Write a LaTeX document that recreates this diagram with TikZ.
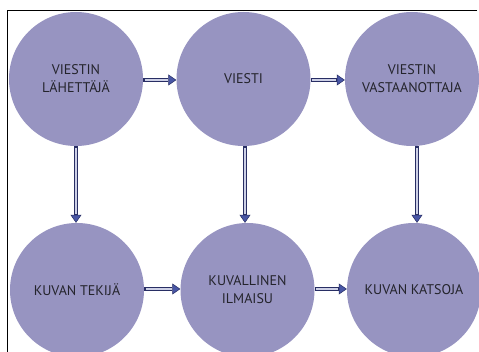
\documentclass[tikz,border=0pt]{standalone}
\usepackage{fontspec}
\setmainfont{PT Sans}
\usetikzlibrary{arrows.meta}

\definecolor{discfill}{RGB}{151,148,193}
\definecolor{labeltext}{RGB}{36,36,44}
\definecolor{shaftedge}{RGB}{40,46,100}
\definecolor{shaftcore}{RGB}{205,208,230}
\definecolor{tipfill}{RGB}{72,86,165}

\tikzset{
  disc/.style={circle, fill=discfill, draw=none, minimum size=134pt, inner sep=0pt,
    align=center, text=labeltext, font=\fontsize{14}{18}\selectfont},
  flow/.style={draw=shaftedge, line width=3.6pt,
    -{Triangle[length=8pt,width=11pt,line width=0.5pt,fill=tipfill,color=shaftedge]},
    postaction={draw=shaftcore, line width=1.6pt, -, shorten >=8.6pt, shorten <=1.6pt}},
}

\begin{document}
\begin{tikzpicture}[x=1pt, y=-1pt]
  \useasboundingbox (0,0) rectangle (479,352);
  \clip (0,0) rectangle (479,352);

  % frame edges
  \draw[line width=1pt, black] (477,11) -- (7,11) -- (7,352);

  % upper row
  \node[disc] (sender)   at (76,79)    {VIESTIN\\LÄHETTÄJÄ};
  \node[disc] (message)  at (243.5,79) {VIESTI};
  \node[disc] (receiver) at (412,79)   {VIESTIN\\VASTAANOTTAJA};

  % lower row
  \node[disc] (maker)    at (77,290)   {KUVAN TEKIJÄ};
  \node[disc] (image)    at (247.5,290) {KUVALLINEN\\ILMAISU};
  \node[disc] (viewer)   at (414,290)  {KUVAN KATSOJA};

  % horizontal connectors
  \draw[flow] ([yshift=-1pt]sender.east) -- ([yshift=-1pt]sender.east -| message.west);
  \draw[flow] ([yshift=-1pt]message.east) -- ([yshift=-1pt]message.east -| receiver.west);
  \draw[flow] ([yshift=1pt]maker.east) -- ([yshift=1pt]maker.east -| image.west);
  \draw[flow] ([yshift=1pt]image.east) -- ([yshift=1pt]image.east -| viewer.west);

  % vertical connectors
  \draw[flow] (sender.south) -- (sender.south |- maker.north);
  \draw[flow] ([xshift=1.5pt]message.south) -- ([xshift=1.5pt]message.south |- image.north);
  \draw[flow] ([xshift=5pt]receiver.south) -- ([xshift=5pt]receiver.south |- viewer.north);
\end{tikzpicture}
\end{document}
